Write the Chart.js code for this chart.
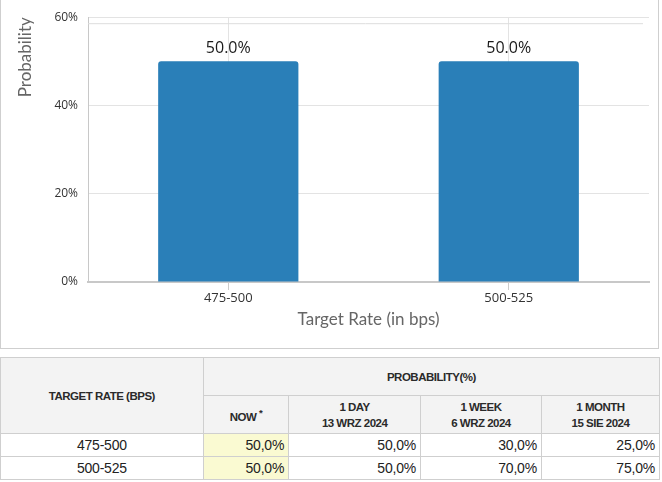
<!DOCTYPE html>
<html>
<head>
<meta charset="utf-8">
<script src="https://cdn.jsdelivr.net/npm/chart.js@4"></script>
<style>
  html, body { margin: 0; padding: 0; background: #fff; }
  body { width: 662px; height: 482px; overflow: hidden; position: relative; }
  #panel { position: absolute; left: 0; top: 0; width: 659px; height: 349px;
           border: 1px solid #cfcfcf; border-top: none; box-sizing: border-box; }
  #wrap { position: absolute; left: 0; top: 0; width: 658px; height: 348px; }
  table { position: absolute; left: 0; top: 357px; width: 660px; border-collapse: collapse;
          font-family: "Liberation Sans", Arial, sans-serif; color: #222; }
  th { background: #f3f3f3; font-size: 11.5px; letter-spacing: -0.5px; font-weight: bold;
       border: 1px solid #cfcfcf; text-align: center; line-height: 16px; padding: 0; color: #2a2a2a; }
  td { font-size: 14px; border: 1px solid #cfcfcf; height: 22px; padding: 0 4px; text-align: right;
       letter-spacing: -0.2px; }
  td.rate { text-align: center; }
  td.now { background: #fafad2; }
</style>
</head>
<body>
<div id="panel"></div>
<div id="wrap"><canvas id="chart" width="658" height="348"></canvas></div>
<table id="probTable">
  <thead>
    <tr>
      <th rowspan="2" style="width:204px">TARGET RATE (BPS)</th>
      <th colspan="4" style="height:37px">PROBABILITY(%)</th>
    </tr>
    <tr id="headRow" style="height:38px"></tr>
  </thead>
  <tbody id="tableBody"></tbody>
</table>
<script>
const categories = ["475-500", "500-525"];
const nowValues = [50.0, 50.0];
const dayValues = [50.0, 50.0];
const weekValues = [30.0, 70.0];
const monthValues = [25.0, 75.0];
const columnHeads = ["NOW <sup>*</sup>", "1 DAY<br>13 WRZ 2024", "1 WEEK<br>6 WRZ 2024", "1 MONTH<br>15 SIE 2024"];
const yTicks = [0, 20, 40, 60];

// Table
const colWidths = [85, 132, 121, 118];
const headRow = document.getElementById("headRow");
columnHeads.forEach((h, i) => {
  headRow.innerHTML += `<th style="width:${colWidths[i]}px">${h}</th>`;
});
const fmt = v => v.toFixed(1).replace(".", ",") + "%";
const tbody = document.getElementById("tableBody");
categories.forEach((c, i) => {
  tbody.innerHTML += `<tr>
    <td class="rate">${c}</td>
    <td class="now">${fmt(nowValues[i])}</td>
    <td>${fmt(dayValues[i])}</td>
    <td>${fmt(weekValues[i])}</td>
    <td>${fmt(monthValues[i])}</td>
  </tr>`;
});

// Value labels above bars, plus the second line under the top gridline
const barLabels = {
  id: "barLabels",
  beforeDatasetsDraw(chart) {
    const ctx = chart.ctx;
    const y = chart.scales.y.getPixelForValue(yTicks[yTicks.length - 1]) + 6.5;
    ctx.save();
    ctx.strokeStyle = "#dddddd";
    ctx.lineWidth = 1;
    ctx.beginPath();
    ctx.moveTo(chart.chartArea.left, y);
    ctx.lineTo(chart.chartArea.right - 6, y);
    ctx.stroke();
    ctx.restore();
  },
  afterDatasetsDraw(chart) {
    const ctx = chart.ctx;
    const meta = chart.getDatasetMeta(0);
    ctx.save();
    ctx.font = "16px 'Open Sans', sans-serif";
    ctx.fillStyle = "#1a1a1a";
    ctx.textAlign = "center";
    ctx.textBaseline = "bottom";
    meta.data.forEach((bar, i) => {
      ctx.fillText(nowValues[i].toFixed(1) + "%", bar.x, bar.y - 5);
    });
    ctx.restore();
  }
};

const ctx = document.getElementById("chart").getContext("2d");
new Chart(ctx, {
  type: "bar",
  data: {
    labels: categories,
    datasets: [{
      data: nowValues,
      backgroundColor: "#2a7fb8",
      borderRadius: { topLeft: 3, topRight: 3 },
      borderSkipped: "bottom",
      barPercentage: 0.5,
      categoryPercentage: 1.0
    }]
  },
  plugins: [barLabels],
  options: {
    responsive: false,
    animation: false,
    layout: { padding: { top: 10, right: 9, left: 15, bottom: 14 } },
    plugins: { legend: { display: false }, tooltip: { enabled: false } },
    scales: {
      x: {
        grid: { offset: false, color: "#e3e3e3", tickLength: 8, tickColor: "#cccccc" },
        border: { color: "#c8c8c8", width: 2 },
        ticks: { color: "#333", font: { family: "Open Sans", size: 13 }, padding: 0 },
        title: { display: true, text: "Target Rate (in bps)", color: "#666",
                 font: { family: "Lato", size: 17 }, padding: { top: 4 } }
      },
      y: {
        min: 0, max: 60,
        afterBuildTicks: axis => { axis.ticks = yTicks.map(v => ({ value: v })); },
        grid: { color: "#e3e3e3", drawTicks: false },
        border: { color: "#c8c8c8" },
        ticks: { color: "#333", font: { family: "Open Sans", size: 12 }, padding: 10,
                 callback: v => v + "%" },
        title: { display: true, text: "Probability", color: "#666", align: "end",
                 font: { family: "Lato", size: 17 }, padding: { top: 0, bottom: 9 } }
      }
    }
  }
});
</script>
</body>
</html>
